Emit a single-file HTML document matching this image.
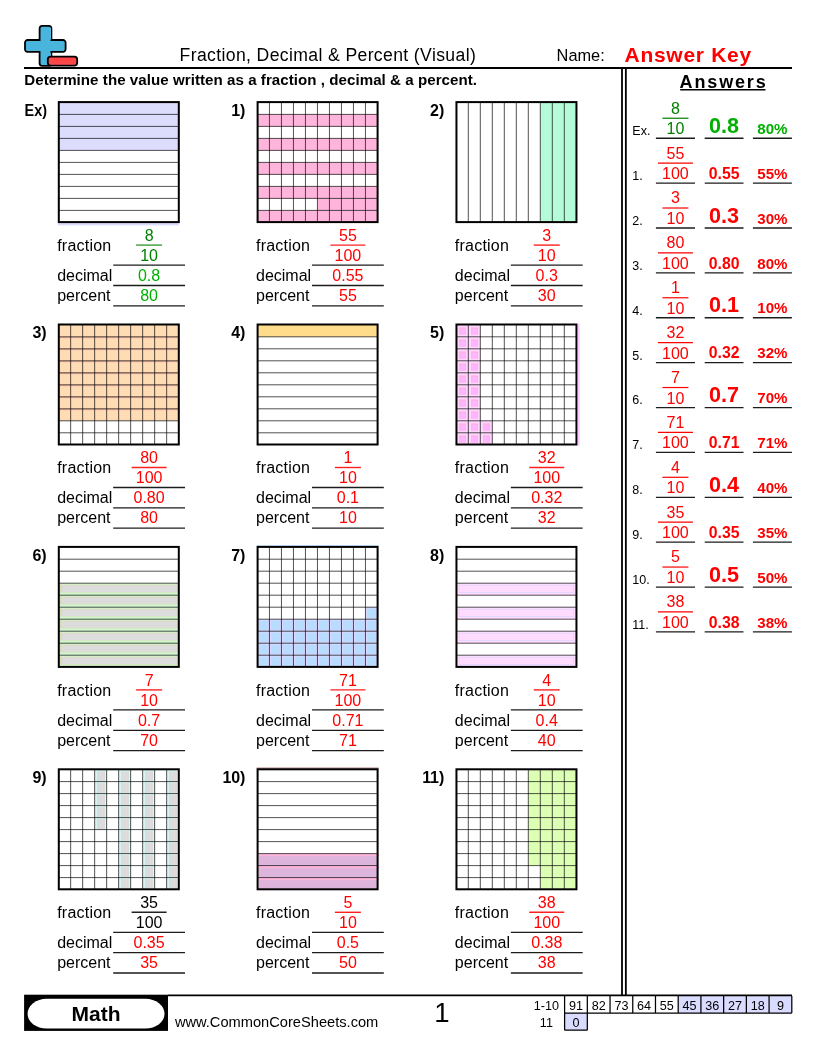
<!DOCTYPE html>
<html><head><meta charset="utf-8"><title>Fraction, Decimal &amp; Percent (Visual)</title>
<style>
html,body{margin:0;padding:0;background:#fff;}
body{width:816px;height:1056px;position:relative;overflow:hidden;font-family:"Liberation Sans",sans-serif;color:#000;}
div{position:absolute;white-space:nowrap;}
svg{position:absolute;left:0;top:0;}
.pn{text-align:right;font-weight:bold;}
.vl{width:71.8px;text-align:center;}
.af{width:39px;text-align:center;}
.ad{width:38.8px;text-align:center;font-weight:bold;}
.sb{text-align:center;}
</style></head><body><div id="wrap" style="left:0;top:0;width:816px;height:1056px;will-change:transform;">
<svg width="816" height="1056" viewBox="0 0 816 1056">
<g transform="translate(58.8 102.1)"><rect x="-0.6" y="0" width="121.2" height="48.3" fill="#dcdcfc" /><rect x="-0.9" y="120" width="121" height="3.3" fill="#dcdcfc" /><path d="M0 12.3H120M0 24.3H120M0 36.3H120M0 48.3H120M0 60.3H120M0 72.3H120M0 84.3H120M0 96.3H120M0 108.3H120" stroke="#000" stroke-opacity="0.68" stroke-width="1" fill="none"/><rect x="0" y="0" width="120" height="120" fill="none" stroke="#000" stroke-width="2"/><path d="M54.4 163H126.2M54.4 183.4H126.2M54.4 203.7H126.2" stroke="#1c1c1c" stroke-width="1.3" fill="none"/><path d="M77.3 143H103.3" stroke="#3c9c3c" stroke-width="1.4" fill="none"/></g><g transform="translate(257.6 102.1)"><rect x="0" y="12.3" width="120" height="12" fill="#ffb4dc" /><rect x="0" y="36.3" width="120" height="12" fill="#ffb4dc" /><rect x="0" y="60.3" width="120" height="12" fill="#ffb4dc" /><rect x="0" y="84.3" width="120" height="12" fill="#ffb4dc" /><rect x="0" y="108.3" width="120" height="12" fill="#ffb4dc" /><rect x="60" y="96.3" width="60" height="12" fill="#ffb4dc" /><path d="M0 12.3H120M0 24.3H120M0 36.3H120M0 48.3H120M0 60.3H120M0 72.3H120M0 84.3H120M0 96.3H120M0 108.3H120M11.85 0V120M23.85 0V120M35.85 0V120M47.85 0V120M59.85 0V120M71.85 0V120M83.85 0V120M95.85 0V120M107.85 0V120" stroke="#000" stroke-opacity="0.68" stroke-width="1" fill="none"/><rect x="0" y="0" width="120" height="120" fill="none" stroke="#000" stroke-width="2"/><path d="M54.4 163H126.2M54.4 183.4H126.2M54.4 203.7H126.2" stroke="#1c1c1c" stroke-width="1.3" fill="none"/><path d="M72.8 143H107.8" stroke="#ff2020" stroke-width="1.4" fill="none"/></g><g transform="translate(456.45 102.1)"><rect x="84" y="0" width="36" height="120" fill="#b4fcd8" /><path d="M11.85 0V120M23.85 0V120M35.85 0V120M47.85 0V120M59.85 0V120M71.85 0V120M83.85 0V120M95.85 0V120M107.85 0V120" stroke="#000" stroke-opacity="0.68" stroke-width="1" fill="none"/><rect x="0" y="0" width="120" height="120" fill="none" stroke="#000" stroke-width="2"/><path d="M54.4 163H126.2M54.4 183.4H126.2M54.4 203.7H126.2" stroke="#1c1c1c" stroke-width="1.3" fill="none"/><path d="M77.3 143H103.3" stroke="#ff2020" stroke-width="1.4" fill="none"/></g><g transform="translate(58.8 324.5)"><rect x="0" y="0" width="120" height="96.3" fill="#ffdcb4" /><rect x="0" y="12.7" width="120" height="0.9" fill="#e8a4a0" /><rect x="0" y="24.7" width="120" height="0.9" fill="#e8a4a0" /><rect x="0" y="36.7" width="120" height="0.9" fill="#e8a4a0" /><rect x="0" y="48.7" width="120" height="0.9" fill="#e8a4a0" /><rect x="0" y="60.7" width="120" height="0.9" fill="#e8a4a0" /><rect x="0" y="72.7" width="120" height="0.9" fill="#e8a4a0" /><rect x="0" y="84.7" width="120" height="0.9" fill="#e8a4a0" /><path d="M0 12.3H120M0 24.3H120M0 36.3H120M0 48.3H120M0 60.3H120M0 72.3H120M0 84.3H120M0 96.3H120M0 108.3H120M11.85 0V120M23.85 0V120M35.85 0V120M47.85 0V120M59.85 0V120M71.85 0V120M83.85 0V120M95.85 0V120M107.85 0V120" stroke="#000" stroke-opacity="0.68" stroke-width="1" fill="none"/><rect x="0" y="0" width="120" height="120" fill="none" stroke="#000" stroke-width="2"/><path d="M54.4 163H126.2M54.4 183.4H126.2M54.4 203.7H126.2" stroke="#1c1c1c" stroke-width="1.3" fill="none"/><path d="M72.8 143H107.8" stroke="#ff2020" stroke-width="1.4" fill="none"/></g><g transform="translate(257.6 324.5)"><rect x="0" y="0" width="120" height="12.3" fill="#ffdc8c" /><path d="M0 12.3H120M0 24.3H120M0 36.3H120M0 48.3H120M0 60.3H120M0 72.3H120M0 84.3H120M0 96.3H120M0 108.3H120" stroke="#000" stroke-opacity="0.68" stroke-width="1" fill="none"/><rect x="0" y="0" width="120" height="120" fill="none" stroke="#000" stroke-width="2"/><path d="M54.4 163H126.2M54.4 183.4H126.2M54.4 203.7H126.2" stroke="#1c1c1c" stroke-width="1.3" fill="none"/><path d="M77.3 143H103.3" stroke="#ff2020" stroke-width="1.4" fill="none"/></g><g transform="translate(456.45 324.5)"><rect x="0" y="0" width="24" height="120" fill="#ffd8ff" /><rect x="24" y="96" width="12" height="24" fill="#ffd8ff" /><rect x="2.6" y="2.8" width="7" height="7.4" fill="#ffb4dc" /><rect x="3.6" y="4.4" width="5" height="5.1" fill="#ffb4ff" /><rect x="2.6" y="14.8" width="7" height="7.4" fill="#ffb4dc" /><rect x="3.6" y="16.4" width="5" height="5.1" fill="#ffb4ff" /><rect x="2.6" y="26.8" width="7" height="7.4" fill="#ffb4dc" /><rect x="3.6" y="28.4" width="5" height="5.1" fill="#ffb4ff" /><rect x="2.6" y="38.8" width="7" height="7.4" fill="#ffb4dc" /><rect x="3.6" y="40.4" width="5" height="5.1" fill="#ffb4ff" /><rect x="2.6" y="50.8" width="7" height="7.4" fill="#ffb4dc" /><rect x="3.6" y="52.4" width="5" height="5.1" fill="#ffb4ff" /><rect x="2.6" y="62.8" width="7" height="7.4" fill="#ffb4dc" /><rect x="3.6" y="64.4" width="5" height="5.1" fill="#ffb4ff" /><rect x="2.6" y="74.8" width="7" height="7.4" fill="#ffb4dc" /><rect x="3.6" y="76.4" width="5" height="5.1" fill="#ffb4ff" /><rect x="2.6" y="86.8" width="7" height="7.4" fill="#ffb4dc" /><rect x="3.6" y="88.4" width="5" height="5.1" fill="#ffb4ff" /><rect x="2.6" y="98.8" width="7" height="7.4" fill="#ffb4dc" /><rect x="3.6" y="100.4" width="5" height="5.1" fill="#ffb4ff" /><rect x="2.6" y="110.8" width="7" height="7.4" fill="#ffb4dc" /><rect x="3.6" y="112.4" width="5" height="5.1" fill="#ffb4ff" /><rect x="14.6" y="2.8" width="7" height="7.4" fill="#ffb4dc" /><rect x="15.6" y="4.4" width="5" height="5.1" fill="#ffb4ff" /><rect x="14.6" y="14.8" width="7" height="7.4" fill="#ffb4dc" /><rect x="15.6" y="16.4" width="5" height="5.1" fill="#ffb4ff" /><rect x="14.6" y="26.8" width="7" height="7.4" fill="#ffb4dc" /><rect x="15.6" y="28.4" width="5" height="5.1" fill="#ffb4ff" /><rect x="14.6" y="38.8" width="7" height="7.4" fill="#ffb4dc" /><rect x="15.6" y="40.4" width="5" height="5.1" fill="#ffb4ff" /><rect x="14.6" y="50.8" width="7" height="7.4" fill="#ffb4dc" /><rect x="15.6" y="52.4" width="5" height="5.1" fill="#ffb4ff" /><rect x="14.6" y="62.8" width="7" height="7.4" fill="#ffb4dc" /><rect x="15.6" y="64.4" width="5" height="5.1" fill="#ffb4ff" /><rect x="14.6" y="74.8" width="7" height="7.4" fill="#ffb4dc" /><rect x="15.6" y="76.4" width="5" height="5.1" fill="#ffb4ff" /><rect x="14.6" y="86.8" width="7" height="7.4" fill="#ffb4dc" /><rect x="15.6" y="88.4" width="5" height="5.1" fill="#ffb4ff" /><rect x="14.6" y="98.8" width="7" height="7.4" fill="#ffb4dc" /><rect x="15.6" y="100.4" width="5" height="5.1" fill="#ffb4ff" /><rect x="14.6" y="110.8" width="7" height="7.4" fill="#ffb4dc" /><rect x="15.6" y="112.4" width="5" height="5.1" fill="#ffb4ff" /><rect x="26.6" y="98.8" width="7" height="7.4" fill="#ffb4dc" /><rect x="27.6" y="100.4" width="5" height="5.1" fill="#ffb4ff" /><rect x="26.6" y="110.8" width="7" height="7.4" fill="#ffb4dc" /><rect x="27.6" y="112.4" width="5" height="5.1" fill="#ffb4ff" /><rect x="121.3" y="-1" width="1.9" height="122" fill="#ffc8ff" /><path d="M0 12.3H120M0 24.3H120M0 36.3H120M0 48.3H120M0 60.3H120M0 72.3H120M0 84.3H120M0 96.3H120M0 108.3H120M11.85 0V120M23.85 0V120M35.85 0V120M47.85 0V120M59.85 0V120M71.85 0V120M83.85 0V120M95.85 0V120M107.85 0V120" stroke="#000" stroke-opacity="0.68" stroke-width="1" fill="none"/><rect x="0" y="0" width="120" height="120" fill="none" stroke="#000" stroke-width="2"/><path d="M54.4 163H126.2M54.4 183.4H126.2M54.4 203.7H126.2" stroke="#1c1c1c" stroke-width="1.3" fill="none"/><path d="M72.8 143H107.8" stroke="#ff2020" stroke-width="1.4" fill="none"/></g><g transform="translate(58.8 546.9)"><rect x="0" y="36.3" width="120" height="12" fill="#d0f8d0" /><rect x="1" y="37.7" width="118" height="8" fill="#dcdcb4" /><rect x="3.2" y="38.5" width="114.8" height="6.6" fill="#dcdcdc" /><rect x="0" y="48.3" width="120" height="12" fill="#d0f8d0" /><rect x="1" y="49.7" width="118" height="8" fill="#dcdcb4" /><rect x="3.2" y="50.5" width="114.8" height="6.6" fill="#dcdcdc" /><rect x="0" y="60.3" width="120" height="12" fill="#d0f8d0" /><rect x="1" y="61.7" width="118" height="8" fill="#dcdcb4" /><rect x="3.2" y="62.5" width="114.8" height="6.6" fill="#dcdcdc" /><rect x="0" y="72.3" width="120" height="12" fill="#d0f8d0" /><rect x="1" y="73.7" width="118" height="8" fill="#dcdcb4" /><rect x="3.2" y="74.5" width="114.8" height="6.6" fill="#dcdcdc" /><rect x="0" y="84.3" width="120" height="12" fill="#d0f8d0" /><rect x="1" y="85.7" width="118" height="8" fill="#dcdcb4" /><rect x="3.2" y="86.5" width="114.8" height="6.6" fill="#dcdcdc" /><rect x="0" y="96.3" width="120" height="12" fill="#d0f8d0" /><rect x="1" y="97.7" width="118" height="8" fill="#dcdcb4" /><rect x="3.2" y="98.5" width="114.8" height="6.6" fill="#dcdcdc" /><rect x="0" y="108.3" width="120" height="12" fill="#d0f8d0" /><rect x="1" y="109.7" width="118" height="8" fill="#dcdcb4" /><rect x="3.2" y="110.5" width="114.8" height="6.6" fill="#dcdcdc" /><path d="M0 12.3H120M0 24.3H120M0 36.3H120M0 48.3H120M0 60.3H120M0 72.3H120M0 84.3H120M0 96.3H120M0 108.3H120" stroke="#000" stroke-opacity="0.68" stroke-width="1" fill="none"/><rect x="0" y="0" width="120" height="120" fill="none" stroke="#000" stroke-width="2"/><path d="M54.4 163H126.2M54.4 183.4H126.2M54.4 203.7H126.2" stroke="#1c1c1c" stroke-width="1.3" fill="none"/><path d="M77.3 143H103.3" stroke="#ff2020" stroke-width="1.4" fill="none"/></g><g transform="translate(257.6 546.9)"><rect x="0" y="72.3" width="120" height="47.7" fill="#d8d8ff" /><rect x="108" y="60.3" width="12" height="12" fill="#d8d8ff" /><rect x="1.6" y="73.8" width="9" height="9" fill="#b8dcff" /><rect x="1.6" y="85.8" width="9" height="9" fill="#b8dcff" /><rect x="1.6" y="97.8" width="9" height="9" fill="#b8dcff" /><rect x="1.6" y="109.8" width="9" height="9" fill="#b8dcff" /><rect x="13.6" y="73.8" width="9" height="9" fill="#b8dcff" /><rect x="13.6" y="85.8" width="9" height="9" fill="#b8dcff" /><rect x="13.6" y="97.8" width="9" height="9" fill="#b8dcff" /><rect x="13.6" y="109.8" width="9" height="9" fill="#b8dcff" /><rect x="25.6" y="73.8" width="9" height="9" fill="#b8dcff" /><rect x="25.6" y="85.8" width="9" height="9" fill="#b8dcff" /><rect x="25.6" y="97.8" width="9" height="9" fill="#b8dcff" /><rect x="25.6" y="109.8" width="9" height="9" fill="#b8dcff" /><rect x="37.6" y="73.8" width="9" height="9" fill="#b8dcff" /><rect x="37.6" y="85.8" width="9" height="9" fill="#b8dcff" /><rect x="37.6" y="97.8" width="9" height="9" fill="#b8dcff" /><rect x="37.6" y="109.8" width="9" height="9" fill="#b8dcff" /><rect x="49.6" y="73.8" width="9" height="9" fill="#b8dcff" /><rect x="49.6" y="85.8" width="9" height="9" fill="#b8dcff" /><rect x="49.6" y="97.8" width="9" height="9" fill="#b8dcff" /><rect x="49.6" y="109.8" width="9" height="9" fill="#b8dcff" /><rect x="61.6" y="73.8" width="9" height="9" fill="#b8dcff" /><rect x="61.6" y="85.8" width="9" height="9" fill="#b8dcff" /><rect x="61.6" y="97.8" width="9" height="9" fill="#b8dcff" /><rect x="61.6" y="109.8" width="9" height="9" fill="#b8dcff" /><rect x="73.6" y="73.8" width="9" height="9" fill="#b8dcff" /><rect x="73.6" y="85.8" width="9" height="9" fill="#b8dcff" /><rect x="73.6" y="97.8" width="9" height="9" fill="#b8dcff" /><rect x="73.6" y="109.8" width="9" height="9" fill="#b8dcff" /><rect x="85.6" y="73.8" width="9" height="9" fill="#b8dcff" /><rect x="85.6" y="85.8" width="9" height="9" fill="#b8dcff" /><rect x="85.6" y="97.8" width="9" height="9" fill="#b8dcff" /><rect x="85.6" y="109.8" width="9" height="9" fill="#b8dcff" /><rect x="97.6" y="73.8" width="9" height="9" fill="#b8dcff" /><rect x="97.6" y="85.8" width="9" height="9" fill="#b8dcff" /><rect x="97.6" y="97.8" width="9" height="9" fill="#b8dcff" /><rect x="97.6" y="109.8" width="9" height="9" fill="#b8dcff" /><rect x="109.6" y="73.8" width="9" height="9" fill="#b8dcff" /><rect x="109.6" y="85.8" width="9" height="9" fill="#b8dcff" /><rect x="109.6" y="97.8" width="9" height="9" fill="#b8dcff" /><rect x="109.6" y="109.8" width="9" height="9" fill="#b8dcff" /><rect x="109.6" y="61.8" width="9" height="9" fill="#b8dcff" /><rect x="-1" y="-1.7" width="122" height="1" fill="#b8dcff" /><path d="M0 12.3H120M0 24.3H120M0 36.3H120M0 48.3H120M0 60.3H120M0 72.3H120M0 84.3H120M0 96.3H120M0 108.3H120M11.85 0V120M23.85 0V120M35.85 0V120M47.85 0V120M59.85 0V120M71.85 0V120M83.85 0V120M95.85 0V120M107.85 0V120" stroke="#000" stroke-opacity="0.68" stroke-width="1" fill="none"/><rect x="0" y="0" width="120" height="120" fill="none" stroke="#000" stroke-width="2"/><path d="M54.4 163H126.2M54.4 183.4H126.2M54.4 203.7H126.2" stroke="#1c1c1c" stroke-width="1.3" fill="none"/><path d="M72.8 143H107.8" stroke="#ff2020" stroke-width="1.4" fill="none"/></g><g transform="translate(456.45 546.9)"><rect x="0" y="36.3" width="120" height="12" fill="#ffdcff" /><rect x="2.9" y="38.4" width="114.2" height="7.3" fill="none" stroke="#dcd8ff" stroke-width="0.8"/><rect x="0" y="60.3" width="120" height="12" fill="#ffdcff" /><rect x="2.9" y="62.4" width="114.2" height="7.3" fill="none" stroke="#dcd8ff" stroke-width="0.8"/><rect x="0" y="84.3" width="120" height="12" fill="#ffdcff" /><rect x="2.9" y="86.4" width="114.2" height="7.3" fill="none" stroke="#dcd8ff" stroke-width="0.8"/><rect x="0" y="108.3" width="120" height="12" fill="#ffdcff" /><rect x="2.9" y="110.4" width="114.2" height="7.3" fill="none" stroke="#dcd8ff" stroke-width="0.8"/><path d="M0 12.3H120M0 24.3H120M0 36.3H120M0 48.3H120M0 60.3H120M0 72.3H120M0 84.3H120M0 96.3H120M0 108.3H120" stroke="#000" stroke-opacity="0.68" stroke-width="1" fill="none"/><rect x="0" y="0" width="120" height="120" fill="none" stroke="#000" stroke-width="2"/><path d="M54.4 163H126.2M54.4 183.4H126.2M54.4 203.7H126.2" stroke="#1c1c1c" stroke-width="1.3" fill="none"/><path d="M77.3 143H103.3" stroke="#ff2020" stroke-width="1.4" fill="none"/></g><g transform="translate(58.8 769.3)"><rect x="60" y="0" width="12" height="120.3" fill="#d4fcfc" /><rect x="62" y="2" width="8.2" height="10.3" fill="#dcdcdc" /><rect x="62" y="13.5" width="8.2" height="10.8" fill="#dcdcdc" /><rect x="62" y="25.5" width="8.2" height="10.8" fill="#dcdcdc" /><rect x="62" y="37.5" width="8.2" height="10.8" fill="#dcdcdc" /><rect x="62" y="49.5" width="8.2" height="10.8" fill="#dcdcdc" /><rect x="62" y="61.5" width="8.2" height="10.8" fill="#dcdcdc" /><rect x="62" y="73.5" width="8.2" height="10.8" fill="#dcdcdc" /><rect x="62" y="85.5" width="8.2" height="10.8" fill="#dcdcdc" /><rect x="62" y="97.5" width="8.2" height="10.8" fill="#dcdcdc" /><rect x="62" y="109.5" width="8.2" height="10.8" fill="#dcdcdc" /><rect x="84" y="0" width="12" height="120.3" fill="#d4fcfc" /><rect x="86" y="2" width="8.2" height="10.3" fill="#dcdcdc" /><rect x="86" y="13.5" width="8.2" height="10.8" fill="#dcdcdc" /><rect x="86" y="25.5" width="8.2" height="10.8" fill="#dcdcdc" /><rect x="86" y="37.5" width="8.2" height="10.8" fill="#dcdcdc" /><rect x="86" y="49.5" width="8.2" height="10.8" fill="#dcdcdc" /><rect x="86" y="61.5" width="8.2" height="10.8" fill="#dcdcdc" /><rect x="86" y="73.5" width="8.2" height="10.8" fill="#dcdcdc" /><rect x="86" y="85.5" width="8.2" height="10.8" fill="#dcdcdc" /><rect x="86" y="97.5" width="8.2" height="10.8" fill="#dcdcdc" /><rect x="86" y="109.5" width="8.2" height="10.8" fill="#dcdcdc" /><rect x="108" y="0" width="12" height="120.3" fill="#d4fcfc" /><rect x="110" y="2" width="8.2" height="10.3" fill="#dcdcdc" /><rect x="110" y="13.5" width="8.2" height="10.8" fill="#dcdcdc" /><rect x="110" y="25.5" width="8.2" height="10.8" fill="#dcdcdc" /><rect x="110" y="37.5" width="8.2" height="10.8" fill="#dcdcdc" /><rect x="110" y="49.5" width="8.2" height="10.8" fill="#dcdcdc" /><rect x="110" y="61.5" width="8.2" height="10.8" fill="#dcdcdc" /><rect x="110" y="73.5" width="8.2" height="10.8" fill="#dcdcdc" /><rect x="110" y="85.5" width="8.2" height="10.8" fill="#dcdcdc" /><rect x="110" y="97.5" width="8.2" height="10.8" fill="#dcdcdc" /><rect x="110" y="109.5" width="8.2" height="10.8" fill="#dcdcdc" /><rect x="36" y="0" width="12" height="60.3" fill="#d4fcfc" /><rect x="38" y="2" width="8.2" height="10.3" fill="#dcdcdc" /><rect x="38" y="13.5" width="8.2" height="10.8" fill="#dcdcdc" /><rect x="38" y="25.5" width="8.2" height="10.8" fill="#dcdcdc" /><rect x="38" y="37.5" width="8.2" height="10.8" fill="#dcdcdc" /><rect x="38" y="49.5" width="8.2" height="10.8" fill="#dcdcdc" /><path d="M0 12.3H120M0 24.3H120M0 36.3H120M0 48.3H120M0 60.3H120M0 72.3H120M0 84.3H120M0 96.3H120M0 108.3H120M11.85 0V120M23.85 0V120M35.85 0V120M47.85 0V120M59.85 0V120M71.85 0V120M83.85 0V120M95.85 0V120M107.85 0V120" stroke="#000" stroke-opacity="0.68" stroke-width="1" fill="none"/><rect x="0" y="0" width="120" height="120" fill="none" stroke="#000" stroke-width="2"/><path d="M54.4 163H126.2M54.4 183.4H126.2M54.4 203.7H126.2" stroke="#1c1c1c" stroke-width="1.3" fill="none"/><path d="M72.8 143H107.8" stroke="#222" stroke-width="1.4" fill="none"/></g><g transform="translate(257.6 769.3)"><rect x="0" y="84.3" width="120" height="35.7" fill="#dcb4dc" /><rect x="0" y="84.3" width="1.3" height="35.7" fill="#ffdce0" /><rect x="1.3" y="84.7" width="120" height="2.2" fill="#ffb4dc" /><rect x="1.3" y="96.7" width="120" height="2.2" fill="#ffb4dc" /><rect x="1.3" y="108.7" width="120" height="2.2" fill="#ffb4dc" /><rect x="-1" y="-1.6" width="122" height="0.8" fill="#803030" /><path d="M0 12.3H120M0 24.3H120M0 36.3H120M0 48.3H120M0 60.3H120M0 72.3H120M0 84.3H120M0 96.3H120M0 108.3H120" stroke="#000" stroke-opacity="0.68" stroke-width="1" fill="none"/><rect x="0" y="0" width="120" height="120" fill="none" stroke="#000" stroke-width="2"/><path d="M54.4 163H126.2M54.4 183.4H126.2M54.4 203.7H126.2" stroke="#1c1c1c" stroke-width="1.3" fill="none"/><path d="M77.3 143H103.3" stroke="#ff2020" stroke-width="1.4" fill="none"/></g><g transform="translate(456.45 769.3)"><rect x="84" y="0" width="36" height="120" fill="#dcffb4" /><rect x="72" y="0" width="12" height="96.3" fill="#dcffb4" /><path d="M0 12.3H120M0 24.3H120M0 36.3H120M0 48.3H120M0 60.3H120M0 72.3H120M0 84.3H120M0 96.3H120M0 108.3H120M11.85 0V120M23.85 0V120M35.85 0V120M47.85 0V120M59.85 0V120M71.85 0V120M83.85 0V120M95.85 0V120M107.85 0V120" stroke="#000" stroke-opacity="0.68" stroke-width="1" fill="none"/><rect x="0" y="0" width="120" height="120" fill="none" stroke="#000" stroke-width="2"/><path d="M54.4 163H126.2M54.4 183.4H126.2M54.4 203.7H126.2" stroke="#1c1c1c" stroke-width="1.3" fill="none"/><path d="M72.8 143H107.8" stroke="#ff2020" stroke-width="1.4" fill="none"/></g><path d="M655.9 138.25H695M704.7 138.25H743.5M752.9 138.25H791.9" stroke="#1c1c1c" stroke-width="1.3" fill="none"/><path d="M662.45 118.25H688.45" stroke="#008000" stroke-width="1.2" fill="none"/><path d="M655.9 183.13H695M704.7 183.13H743.5M752.9 183.13H791.9" stroke="#1c1c1c" stroke-width="1.3" fill="none"/><path d="M657.95 163.13H692.95" stroke="#ff0000" stroke-width="1.2" fill="none"/><path d="M655.9 228.01H695M704.7 228.01H743.5M752.9 228.01H791.9" stroke="#1c1c1c" stroke-width="1.3" fill="none"/><path d="M662.45 208.01H688.45" stroke="#ff0000" stroke-width="1.2" fill="none"/><path d="M655.9 272.89H695M704.7 272.89H743.5M752.9 272.89H791.9" stroke="#1c1c1c" stroke-width="1.3" fill="none"/><path d="M657.95 252.89H692.95" stroke="#ff0000" stroke-width="1.2" fill="none"/><path d="M655.9 317.77H695M704.7 317.77H743.5M752.9 317.77H791.9" stroke="#1c1c1c" stroke-width="1.3" fill="none"/><path d="M662.45 297.77H688.45" stroke="#ff0000" stroke-width="1.2" fill="none"/><path d="M655.9 362.65H695M704.7 362.65H743.5M752.9 362.65H791.9" stroke="#1c1c1c" stroke-width="1.3" fill="none"/><path d="M657.95 342.65H692.95" stroke="#ff0000" stroke-width="1.2" fill="none"/><path d="M655.9 407.53H695M704.7 407.53H743.5M752.9 407.53H791.9" stroke="#1c1c1c" stroke-width="1.3" fill="none"/><path d="M662.45 387.53H688.45" stroke="#ff0000" stroke-width="1.2" fill="none"/><path d="M655.9 452.41H695M704.7 452.41H743.5M752.9 452.41H791.9" stroke="#1c1c1c" stroke-width="1.3" fill="none"/><path d="M657.95 432.41H692.95" stroke="#ff0000" stroke-width="1.2" fill="none"/><path d="M655.9 497.29H695M704.7 497.29H743.5M752.9 497.29H791.9" stroke="#1c1c1c" stroke-width="1.3" fill="none"/><path d="M662.45 477.29H688.45" stroke="#ff0000" stroke-width="1.2" fill="none"/><path d="M655.9 542.17H695M704.7 542.17H743.5M752.9 542.17H791.9" stroke="#1c1c1c" stroke-width="1.3" fill="none"/><path d="M657.95 522.17H692.95" stroke="#ff0000" stroke-width="1.2" fill="none"/><path d="M655.9 587.05H695M704.7 587.05H743.5M752.9 587.05H791.9" stroke="#1c1c1c" stroke-width="1.3" fill="none"/><path d="M662.45 567.05H688.45" stroke="#ff0000" stroke-width="1.2" fill="none"/><path d="M655.9 631.93H695M704.7 631.93H743.5M752.9 631.93H791.9" stroke="#1c1c1c" stroke-width="1.3" fill="none"/><path d="M657.95 611.93H692.95" stroke="#ff0000" stroke-width="1.2" fill="none"/><rect x="678.2" y="996" width="113.6" height="17" fill="#dadcff" /><rect x="564.6" y="1013" width="22.72" height="17.2" fill="#dadcff" /><path d="M564.6 1013.1H791.8M564.6 1030.2H587.32M564.6 996V1030.2M587.32 996V1030.2M610.04 996V1013.1M632.76 996V1013.1M655.48 996V1013.1M678.2 996V1013.1M700.92 996V1013.1M723.64 996V1013.1M746.36 996V1013.1M769.08 996V1013.1M791.8 996V1013.1" stroke="#000" stroke-width="1.25" fill="none"/><path d="M24 68H792" stroke="#000" stroke-width="2"/><path d="M622 68V996M625.85 68V996" stroke="#000" stroke-width="1.8"/><path d="M680.2 89.75H765.5" stroke="#000" stroke-width="1.3"/><path d="M168 995.45H792" stroke="#000" stroke-width="1.8"/><rect x="24.1" y="994.7" width="143.9" height="36.2" fill="#000"/><rect x="27.6" y="998.8" width="136.9" height="29.8" rx="19" ry="14.9" fill="#fff"/><path d="M42.2 25.8 h6.6 a2.6 2.6 0 0 1 2.6 2.6 v11.6 h11.6 a2.6 2.6 0 0 1 2.6 2.6 v6.6 a2.6 2.6 0 0 1 -2.6 2.6 h-11.6 v11.4 a2.6 2.6 0 0 1 -2.6 2.6 h-6.6 a2.6 2.6 0 0 1 -2.6 -2.6 v-11.4 h-12 a2.6 2.6 0 0 1 -2.6 -2.6 v-6.6 a2.6 2.6 0 0 1 2.6 -2.6 h12 v-11.6 a2.6 2.6 0 0 1 2.6 -2.6 z" fill="#49b4dc" stroke="#000" stroke-width="1.8"/>
<path d="M50.4 27.5V39.6M50.4 53.2V56" stroke="#5cd4ff" stroke-width="0.9" fill="none"/>
<rect x="47.8" y="56.6" width="29.4" height="9" rx="2.8" fill="#ff4545" stroke="#000" stroke-width="1.8"/>
<path d="M50.3 59V63.8H75.4V58.8" stroke="#e25a5a" stroke-width="0.6" fill="none"/>
</svg>
<div id="title" style="left:179.60px;top:45px;font-size:17.6px;line-height:20px;letter-spacing:0.37px;">Fraction, Decimal &amp; Percent (Visual)</div><div id="name" style="left:556.60px;top:46px;font-size:16.35px;line-height:18px;">Name:</div><div id="akey" style="left:624.60px;top:43px;font-size:21px;line-height:23px;font-weight:bold;color:#ff0000;letter-spacing:0.7px;">Answer Key</div><div id="instr" style="left:24.30px;top:71px;font-size:15.1px;line-height:17px;font-weight:bold;letter-spacing:0.05px;">Determine the value written as a fraction , decimal &amp; a percent.</div><div id="answers" style="left:679.60px;top:72px;font-size:18px;line-height:20px;font-weight:bold;letter-spacing:1.85px;">Answers</div>
<div class="pn" style="left:1.10px;top:102px;font-size:16px;line-height:17px;width:46px;transform:scaleX(0.9);transform-origin:100% 50%;">Ex)</div><div class="lb" style="left:57.20px;top:237px;font-size:16px;line-height:17px;letter-spacing:0.22px;">fraction</div><div class="lb" style="left:57.20px;top:267px;font-size:16px;line-height:17px;">decimal</div><div class="lb" style="left:57.20px;top:287px;font-size:16px;line-height:17px;">percent</div><div class="vl" style="left:113.20px;top:227px;font-size:16px;line-height:17px;color:#008000;">8</div><div class="vl" style="left:113.20px;top:247px;font-size:16px;line-height:17px;color:#008000;">10</div><div class="vl" style="left:113.20px;top:267px;font-size:16px;line-height:17px;color:#00b000;">0.8</div><div class="vl" style="left:113.20px;top:287px;font-size:16px;line-height:17px;color:#00b000;">80</div><div class="pn" style="left:199.30px;top:102px;font-size:16px;line-height:17px;width:46px;letter-spacing:-0.1px;">1)</div><div class="lb" style="left:256.00px;top:237px;font-size:16px;line-height:17px;letter-spacing:0.22px;">fraction</div><div class="lb" style="left:256.00px;top:267px;font-size:16px;line-height:17px;">decimal</div><div class="lb" style="left:256.00px;top:287px;font-size:16px;line-height:17px;">percent</div><div class="vl" style="left:312.00px;top:227px;font-size:16px;line-height:17px;color:#ff0000;">55</div><div class="vl" style="left:312.00px;top:247px;font-size:16px;line-height:17px;color:#ff0000;">100</div><div class="vl" style="left:312.00px;top:267px;font-size:16px;line-height:17px;color:#ff0000;">0.55</div><div class="vl" style="left:312.00px;top:287px;font-size:16px;line-height:17px;color:#ff0000;">55</div><div class="pn" style="left:398.15px;top:102px;font-size:16px;line-height:17px;width:46px;letter-spacing:-0.1px;">2)</div><div class="lb" style="left:454.85px;top:237px;font-size:16px;line-height:17px;letter-spacing:0.22px;">fraction</div><div class="lb" style="left:454.85px;top:267px;font-size:16px;line-height:17px;">decimal</div><div class="lb" style="left:454.85px;top:287px;font-size:16px;line-height:17px;">percent</div><div class="vl" style="left:510.85px;top:227px;font-size:16px;line-height:17px;color:#ff0000;">3</div><div class="vl" style="left:510.85px;top:247px;font-size:16px;line-height:17px;color:#ff0000;">10</div><div class="vl" style="left:510.85px;top:267px;font-size:16px;line-height:17px;color:#ff0000;">0.3</div><div class="vl" style="left:510.85px;top:287px;font-size:16px;line-height:17px;color:#ff0000;">30</div><div class="pn" style="left:0.50px;top:324px;font-size:16px;line-height:17px;width:46px;letter-spacing:-0.1px;">3)</div><div class="lb" style="left:57.20px;top:459px;font-size:16px;line-height:17px;letter-spacing:0.22px;">fraction</div><div class="lb" style="left:57.20px;top:489px;font-size:16px;line-height:17px;">decimal</div><div class="lb" style="left:57.20px;top:509px;font-size:16px;line-height:17px;">percent</div><div class="vl" style="left:113.20px;top:449px;font-size:16px;line-height:17px;color:#ff0000;">80</div><div class="vl" style="left:113.20px;top:469px;font-size:16px;line-height:17px;color:#ff0000;">100</div><div class="vl" style="left:113.20px;top:489px;font-size:16px;line-height:17px;color:#ff0000;">0.80</div><div class="vl" style="left:113.20px;top:509px;font-size:16px;line-height:17px;color:#ff0000;">80</div><div class="pn" style="left:199.30px;top:324px;font-size:16px;line-height:17px;width:46px;letter-spacing:-0.1px;">4)</div><div class="lb" style="left:256.00px;top:459px;font-size:16px;line-height:17px;letter-spacing:0.22px;">fraction</div><div class="lb" style="left:256.00px;top:489px;font-size:16px;line-height:17px;">decimal</div><div class="lb" style="left:256.00px;top:509px;font-size:16px;line-height:17px;">percent</div><div class="vl" style="left:312.00px;top:449px;font-size:16px;line-height:17px;color:#ff0000;">1</div><div class="vl" style="left:312.00px;top:469px;font-size:16px;line-height:17px;color:#ff0000;">10</div><div class="vl" style="left:312.00px;top:489px;font-size:16px;line-height:17px;color:#ff0000;">0.1</div><div class="vl" style="left:312.00px;top:509px;font-size:16px;line-height:17px;color:#ff0000;">10</div><div class="pn" style="left:398.15px;top:324px;font-size:16px;line-height:17px;width:46px;letter-spacing:-0.1px;">5)</div><div class="lb" style="left:454.85px;top:459px;font-size:16px;line-height:17px;letter-spacing:0.22px;">fraction</div><div class="lb" style="left:454.85px;top:489px;font-size:16px;line-height:17px;">decimal</div><div class="lb" style="left:454.85px;top:509px;font-size:16px;line-height:17px;">percent</div><div class="vl" style="left:510.85px;top:449px;font-size:16px;line-height:17px;color:#ff0000;">32</div><div class="vl" style="left:510.85px;top:469px;font-size:16px;line-height:17px;color:#ff0000;">100</div><div class="vl" style="left:510.85px;top:489px;font-size:16px;line-height:17px;color:#ff0000;">0.32</div><div class="vl" style="left:510.85px;top:509px;font-size:16px;line-height:17px;color:#ff0000;">32</div><div class="pn" style="left:0.50px;top:547px;font-size:16px;line-height:17px;width:46px;letter-spacing:-0.1px;">6)</div><div class="lb" style="left:57.20px;top:682px;font-size:16px;line-height:17px;letter-spacing:0.22px;">fraction</div><div class="lb" style="left:57.20px;top:712px;font-size:16px;line-height:17px;">decimal</div><div class="lb" style="left:57.20px;top:732px;font-size:16px;line-height:17px;">percent</div><div class="vl" style="left:113.20px;top:672px;font-size:16px;line-height:17px;color:#ff0000;">7</div><div class="vl" style="left:113.20px;top:692px;font-size:16px;line-height:17px;color:#ff0000;">10</div><div class="vl" style="left:113.20px;top:712px;font-size:16px;line-height:17px;color:#ff0000;">0.7</div><div class="vl" style="left:113.20px;top:732px;font-size:16px;line-height:17px;color:#ff0000;">70</div><div class="pn" style="left:199.30px;top:547px;font-size:16px;line-height:17px;width:46px;letter-spacing:-0.1px;">7)</div><div class="lb" style="left:256.00px;top:682px;font-size:16px;line-height:17px;letter-spacing:0.22px;">fraction</div><div class="lb" style="left:256.00px;top:712px;font-size:16px;line-height:17px;">decimal</div><div class="lb" style="left:256.00px;top:732px;font-size:16px;line-height:17px;">percent</div><div class="vl" style="left:312.00px;top:672px;font-size:16px;line-height:17px;color:#ff0000;">71</div><div class="vl" style="left:312.00px;top:692px;font-size:16px;line-height:17px;color:#ff0000;">100</div><div class="vl" style="left:312.00px;top:712px;font-size:16px;line-height:17px;color:#ff0000;">0.71</div><div class="vl" style="left:312.00px;top:732px;font-size:16px;line-height:17px;color:#ff0000;">71</div><div class="pn" style="left:398.15px;top:547px;font-size:16px;line-height:17px;width:46px;letter-spacing:-0.1px;">8)</div><div class="lb" style="left:454.85px;top:682px;font-size:16px;line-height:17px;letter-spacing:0.22px;">fraction</div><div class="lb" style="left:454.85px;top:712px;font-size:16px;line-height:17px;">decimal</div><div class="lb" style="left:454.85px;top:732px;font-size:16px;line-height:17px;">percent</div><div class="vl" style="left:510.85px;top:672px;font-size:16px;line-height:17px;color:#ff0000;">4</div><div class="vl" style="left:510.85px;top:692px;font-size:16px;line-height:17px;color:#ff0000;">10</div><div class="vl" style="left:510.85px;top:712px;font-size:16px;line-height:17px;color:#ff0000;">0.4</div><div class="vl" style="left:510.85px;top:732px;font-size:16px;line-height:17px;color:#ff0000;">40</div><div class="pn" style="left:0.50px;top:769px;font-size:16px;line-height:17px;width:46px;letter-spacing:-0.1px;">9)</div><div class="lb" style="left:57.20px;top:904px;font-size:16px;line-height:17px;letter-spacing:0.22px;">fraction</div><div class="lb" style="left:57.20px;top:934px;font-size:16px;line-height:17px;">decimal</div><div class="lb" style="left:57.20px;top:954px;font-size:16px;line-height:17px;">percent</div><div class="vl" style="left:113.20px;top:894px;font-size:16px;line-height:17px;color:#000;">35</div><div class="vl" style="left:113.20px;top:914px;font-size:16px;line-height:17px;color:#000;">100</div><div class="vl" style="left:113.20px;top:934px;font-size:16px;line-height:17px;color:#ff0000;">0.35</div><div class="vl" style="left:113.20px;top:954px;font-size:16px;line-height:17px;color:#ff0000;">35</div><div class="pn" style="left:199.30px;top:769px;font-size:16px;line-height:17px;width:46px;letter-spacing:-0.1px;">10)</div><div class="lb" style="left:256.00px;top:904px;font-size:16px;line-height:17px;letter-spacing:0.22px;">fraction</div><div class="lb" style="left:256.00px;top:934px;font-size:16px;line-height:17px;">decimal</div><div class="lb" style="left:256.00px;top:954px;font-size:16px;line-height:17px;">percent</div><div class="vl" style="left:312.00px;top:894px;font-size:16px;line-height:17px;color:#ff0000;">5</div><div class="vl" style="left:312.00px;top:914px;font-size:16px;line-height:17px;color:#ff0000;">10</div><div class="vl" style="left:312.00px;top:934px;font-size:16px;line-height:17px;color:#ff0000;">0.5</div><div class="vl" style="left:312.00px;top:954px;font-size:16px;line-height:17px;color:#ff0000;">50</div><div class="pn" style="left:398.15px;top:769px;font-size:16px;line-height:17px;width:46px;letter-spacing:-0.1px;">11)</div><div class="lb" style="left:454.85px;top:904px;font-size:16px;line-height:17px;letter-spacing:0.22px;">fraction</div><div class="lb" style="left:454.85px;top:934px;font-size:16px;line-height:17px;">decimal</div><div class="lb" style="left:454.85px;top:954px;font-size:16px;line-height:17px;">percent</div><div class="vl" style="left:510.85px;top:894px;font-size:16px;line-height:17px;color:#ff0000;">38</div><div class="vl" style="left:510.85px;top:914px;font-size:16px;line-height:17px;color:#ff0000;">100</div><div class="vl" style="left:510.85px;top:934px;font-size:16px;line-height:17px;color:#ff0000;">0.38</div><div class="vl" style="left:510.85px;top:954px;font-size:16px;line-height:17px;color:#ff0000;">38</div>
<div class="al" style="left:632.30px;top:124px;font-size:12.5px;line-height:14px;">Ex.</div><div class="af" style="left:655.90px;top:100px;font-size:16px;line-height:17px;color:#008000;">8</div><div class="af" style="left:655.90px;top:120px;font-size:16px;line-height:17px;color:#008000;">10</div><div class="ad" style="left:704.70px;top:113px;font-size:21.6px;line-height:25px;color:#00b000;">0.8</div><div class="ad" style="left:753.00px;top:120px;font-size:15.1px;line-height:17px;color:#00b000;">80%</div><div class="al" style="left:632.30px;top:169px;font-size:12.5px;line-height:14px;">1.</div><div class="af" style="left:655.90px;top:145px;font-size:16px;line-height:17px;color:#ff0000;">55</div><div class="af" style="left:655.90px;top:165px;font-size:16px;line-height:17px;color:#ff0000;">100</div><div class="ad" style="left:704.70px;top:165px;font-size:15.8px;line-height:17px;color:#ff0000;">0.55</div><div class="ad" style="left:753.00px;top:165px;font-size:15.1px;line-height:17px;color:#ff0000;">55%</div><div class="al" style="left:632.30px;top:214px;font-size:12.5px;line-height:14px;">2.</div><div class="af" style="left:655.90px;top:189px;font-size:16px;line-height:17px;color:#ff0000;">3</div><div class="af" style="left:655.90px;top:210px;font-size:16px;line-height:17px;color:#ff0000;">10</div><div class="ad" style="left:704.70px;top:203px;font-size:21.6px;line-height:25px;color:#ff0000;">0.3</div><div class="ad" style="left:753.00px;top:210px;font-size:15.1px;line-height:17px;color:#ff0000;">30%</div><div class="al" style="left:632.30px;top:259px;font-size:12.5px;line-height:14px;">3.</div><div class="af" style="left:655.90px;top:234px;font-size:16px;line-height:17px;color:#ff0000;">80</div><div class="af" style="left:655.90px;top:255px;font-size:16px;line-height:17px;color:#ff0000;">100</div><div class="ad" style="left:704.70px;top:255px;font-size:15.8px;line-height:17px;color:#ff0000;">0.80</div><div class="ad" style="left:753.00px;top:255px;font-size:15.1px;line-height:17px;color:#ff0000;">80%</div><div class="al" style="left:632.30px;top:304px;font-size:12.5px;line-height:14px;">4.</div><div class="af" style="left:655.90px;top:279px;font-size:16px;line-height:17px;color:#ff0000;">1</div><div class="af" style="left:655.90px;top:300px;font-size:16px;line-height:17px;color:#ff0000;">10</div><div class="ad" style="left:704.70px;top:292px;font-size:21.6px;line-height:25px;color:#ff0000;">0.1</div><div class="ad" style="left:753.00px;top:299px;font-size:15.1px;line-height:17px;color:#ff0000;">10%</div><div class="al" style="left:632.30px;top:349px;font-size:12.5px;line-height:14px;">5.</div><div class="af" style="left:655.90px;top:324px;font-size:16px;line-height:17px;color:#ff0000;">32</div><div class="af" style="left:655.90px;top:345px;font-size:16px;line-height:17px;color:#ff0000;">100</div><div class="ad" style="left:704.70px;top:344px;font-size:15.8px;line-height:17px;color:#ff0000;">0.32</div><div class="ad" style="left:753.00px;top:344px;font-size:15.1px;line-height:17px;color:#ff0000;">32%</div><div class="al" style="left:632.30px;top:393px;font-size:12.5px;line-height:14px;">6.</div><div class="af" style="left:655.90px;top:369px;font-size:16px;line-height:17px;color:#ff0000;">7</div><div class="af" style="left:655.90px;top:390px;font-size:16px;line-height:17px;color:#ff0000;">10</div><div class="ad" style="left:704.70px;top:382px;font-size:21.6px;line-height:25px;color:#ff0000;">0.7</div><div class="ad" style="left:753.00px;top:389px;font-size:15.1px;line-height:17px;color:#ff0000;">70%</div><div class="al" style="left:632.30px;top:438px;font-size:12.5px;line-height:14px;">7.</div><div class="af" style="left:655.90px;top:414px;font-size:16px;line-height:17px;color:#ff0000;">71</div><div class="af" style="left:655.90px;top:434px;font-size:16px;line-height:17px;color:#ff0000;">100</div><div class="ad" style="left:704.70px;top:434px;font-size:15.8px;line-height:17px;color:#ff0000;">0.71</div><div class="ad" style="left:753.00px;top:434px;font-size:15.1px;line-height:17px;color:#ff0000;">71%</div><div class="al" style="left:632.30px;top:483px;font-size:12.5px;line-height:14px;">8.</div><div class="af" style="left:655.90px;top:459px;font-size:16px;line-height:17px;color:#ff0000;">4</div><div class="af" style="left:655.90px;top:479px;font-size:16px;line-height:17px;color:#ff0000;">10</div><div class="ad" style="left:704.70px;top:472px;font-size:21.6px;line-height:25px;color:#ff0000;">0.4</div><div class="ad" style="left:753.00px;top:479px;font-size:15.1px;line-height:17px;color:#ff0000;">40%</div><div class="al" style="left:632.30px;top:528px;font-size:12.5px;line-height:14px;">9.</div><div class="af" style="left:655.90px;top:504px;font-size:16px;line-height:17px;color:#ff0000;">35</div><div class="af" style="left:655.90px;top:524px;font-size:16px;line-height:17px;color:#ff0000;">100</div><div class="ad" style="left:704.70px;top:524px;font-size:15.8px;line-height:17px;color:#ff0000;">0.35</div><div class="ad" style="left:753.00px;top:524px;font-size:15.1px;line-height:17px;color:#ff0000;">35%</div><div class="al" style="left:632.30px;top:573px;font-size:12.5px;line-height:14px;">10.</div><div class="af" style="left:655.90px;top:548px;font-size:16px;line-height:17px;color:#ff0000;">5</div><div class="af" style="left:655.90px;top:569px;font-size:16px;line-height:17px;color:#ff0000;">10</div><div class="ad" style="left:704.70px;top:562px;font-size:21.6px;line-height:25px;color:#ff0000;">0.5</div><div class="ad" style="left:753.00px;top:569px;font-size:15.1px;line-height:17px;color:#ff0000;">50%</div><div class="al" style="left:632.30px;top:618px;font-size:12.5px;line-height:14px;">11.</div><div class="af" style="left:655.90px;top:593px;font-size:16px;line-height:17px;color:#ff0000;">38</div><div class="af" style="left:655.90px;top:614px;font-size:16px;line-height:17px;color:#ff0000;">100</div><div class="ad" style="left:704.70px;top:614px;font-size:15.8px;line-height:17px;color:#ff0000;">0.38</div><div class="ad" style="left:753.00px;top:614px;font-size:15.1px;line-height:17px;color:#ff0000;">38%</div>
<div id="math" style="left:27.00px;top:1002px;font-size:21px;line-height:23px;width:138px;font-weight:bold;text-align:center;">Math</div><div id="url" style="left:174.90px;top:1014px;font-size:14.65px;line-height:16px;">www.CommonCoreSheets.com</div><div id="pg" style="left:432.00px;top:997px;font-size:27.6px;line-height:31px;width:20px;text-align:center;">1</div><div class="sl" style="left:526.40px;top:999px;font-size:12.6px;line-height:14px;width:40px;text-align:center;">1-10</div><div class="sl" style="left:526.40px;top:1016px;font-size:12.6px;line-height:14px;width:40px;text-align:center;">11</div>
<div class="sb" style="left:564.60px;top:999px;font-size:12.6px;line-height:14px;width:22.72px;">91</div><div class="sb" style="left:587.32px;top:999px;font-size:12.6px;line-height:14px;width:22.72px;">82</div><div class="sb" style="left:610.04px;top:999px;font-size:12.6px;line-height:14px;width:22.72px;">73</div><div class="sb" style="left:632.76px;top:999px;font-size:12.6px;line-height:14px;width:22.72px;">64</div><div class="sb" style="left:655.48px;top:999px;font-size:12.6px;line-height:14px;width:22.72px;">55</div><div class="sb" style="left:678.20px;top:999px;font-size:12.6px;line-height:14px;width:22.72px;">45</div><div class="sb" style="left:700.92px;top:999px;font-size:12.6px;line-height:14px;width:22.72px;">36</div><div class="sb" style="left:723.64px;top:999px;font-size:12.6px;line-height:14px;width:22.72px;">27</div><div class="sb" style="left:746.36px;top:999px;font-size:12.6px;line-height:14px;width:22.72px;">18</div><div class="sb" style="left:769.08px;top:999px;font-size:12.6px;line-height:14px;width:22.72px;">9</div><div class="sb" style="left:564.60px;top:1016px;font-size:12.6px;line-height:14px;width:22.72px;">0</div>
</div></body></html>
